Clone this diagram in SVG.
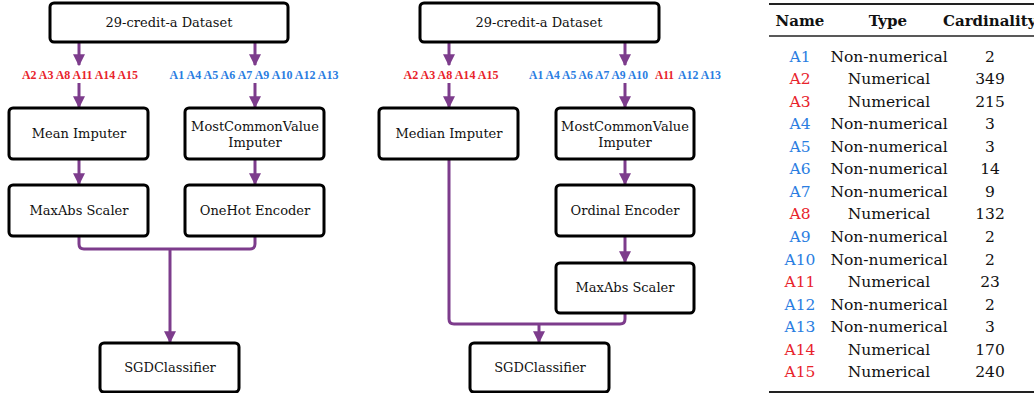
<svg xmlns="http://www.w3.org/2000/svg" width="1034" height="393" viewBox="0 0 1034 393">
<defs>
<marker id="ah" viewBox="0 0 10 10" refX="9" refY="5" markerWidth="4" markerHeight="4" orient="auto" markerUnits="strokeWidth">
<path d="M0,0 L10,5 L0,10 Z" fill="#7d3c8c"/>
</marker>
<style>
.box{fill:#fff;stroke:#000;stroke-width:3}
.bt{font-family:"DejaVu Serif","Liberation Serif",serif;font-size:13px;fill:#111;text-anchor:middle}
.lbl{font-family:"Liberation Serif","DejaVu Serif",serif;font-size:11.5px;font-weight:bold;text-anchor:middle}
.ls{text-anchor:start}
.c{fill:none;stroke:#7d3c8c;stroke-width:3}
.ca{fill:none;stroke:#7d3c8c;stroke-width:3;marker-end:url(#ah)}
.th{font-family:"DejaVu Serif","Liberation Serif",serif;font-size:15px;font-weight:bold;fill:#111}
.td{font-family:"DejaVu Serif","Liberation Serif",serif;font-size:15.5px;fill:#111;text-anchor:middle}
.rule{stroke:#222}
.red{fill:#e8232b}
.blue{fill:#2a7de1}
</style>
</defs>
<rect width="1034" height="393" fill="#fff"/>

<g id="connectors">
<line class="ca" x1="79" y1="42" x2="79" y2="65"/>
<line class="ca" x1="255" y1="42" x2="255" y2="65"/>
<line class="ca" x1="79" y1="83" x2="79" y2="107"/>
<line class="ca" x1="255" y1="83" x2="255" y2="107"/>
<line class="ca" x1="79" y1="159" x2="79" y2="184"/>
<line class="ca" x1="255" y1="159" x2="255" y2="184"/>
<path class="c" d="M79,236 V244 Q79,249 84,249 H250 Q255,249 255,244 V236"/>
<line class="ca" x1="170" y1="249" x2="170" y2="342"/>

<line class="ca" x1="449" y1="42" x2="449" y2="65"/>
<line class="ca" x1="625" y1="42" x2="625" y2="65"/>
<line class="ca" x1="449" y1="83" x2="449" y2="107"/>
<line class="ca" x1="625" y1="83" x2="625" y2="107"/>
<line class="ca" x1="625" y1="159" x2="625" y2="184"/>
<line class="ca" x1="625" y1="236" x2="625" y2="262"/>
<path class="c" d="M449,159 V319 Q449,324 454,324 H620 Q625,324 625,319 V313"/>
<line class="ca" x1="539" y1="324" x2="539" y2="342"/>
</g>

<g id="labels">
<text class="lbl red" x="80" y="79" textLength="116" lengthAdjust="spacingAndGlyphs">A2 A3 A8 A11 A14 A15</text>
<text class="lbl blue" x="254" y="79" textLength="169" lengthAdjust="spacingAndGlyphs">A1 A4 A5 A6 A7 A9 A10 A12 A13</text>
<text class="lbl red" x="451" y="79" textLength="95" lengthAdjust="spacingAndGlyphs">A2 A3 A8 A14 A15</text>
<text class="lbl ls blue" x="529" y="79" textLength="119" lengthAdjust="spacingAndGlyphs">A1 A4 A5 A6 A7 A9 A10</text>
<text class="lbl ls red" x="655" y="79" textLength="19" lengthAdjust="spacingAndGlyphs">A11</text>
<text class="lbl ls blue" x="678" y="79" textLength="43" lengthAdjust="spacingAndGlyphs">A12 A13</text>
</g>

<g id="l-dataset"><rect class="box" x="50" y="3" width="238" height="39" rx="4"/><text class="bt" x="169" y="27">29-credit-a Dataset</text></g>
<g id="l-mean"><rect class="box" x="9" y="108" width="139" height="51" rx="4"/><text class="bt" x="79" y="138">Mean Imputer</text></g>
<g id="l-mcv"><rect class="box" x="185" y="108" width="139" height="51" rx="4"/><text class="bt" x="255" y="131">MostCommonValue</text><text class="bt" x="255" y="147">Imputer</text></g>
<g id="l-maxabs"><rect class="box" x="9" y="185" width="139" height="51" rx="4"/><text class="bt" x="79" y="215">MaxAbs Scaler</text></g>
<g id="l-onehot"><rect class="box" x="185" y="185" width="139" height="51" rx="4"/><text class="bt" x="255" y="215">OneHot Encoder</text></g>
<g id="l-sgd"><rect class="box" x="100" y="343" width="139" height="49" rx="4"/><text class="bt" x="170" y="372">SGDClassifier</text></g>

<g id="r-dataset"><rect class="box" x="420" y="3" width="239" height="39" rx="4"/><text class="bt" x="539" y="27">29-credit-a Dataset</text></g>
<g id="r-median"><rect class="box" x="379" y="108" width="139" height="51" rx="4"/><text class="bt" x="449" y="138">Median Imputer</text></g>
<g id="r-mcv"><rect class="box" x="556" y="108" width="138" height="51" rx="4"/><text class="bt" x="625" y="131">MostCommonValue</text><text class="bt" x="625" y="147">Imputer</text></g>
<g id="r-ordinal"><rect class="box" x="556" y="185" width="138" height="51" rx="4"/><text class="bt" x="625" y="215">Ordinal Encoder</text></g>
<g id="r-maxabs"><rect class="box" x="556" y="263" width="138" height="50" rx="4"/><text class="bt" x="625" y="292">MaxAbs Scaler</text></g>
<g id="r-sgd"><rect class="box" x="470" y="343" width="139" height="49" rx="4"/><text class="bt" x="540" y="372">SGDClassifier</text></g>

<g id="table">
<line class="rule" x1="769" y1="4" x2="1034" y2="4" stroke-width="2"/>
<line class="rule" x1="769" y1="36" x2="1034" y2="36" stroke-width="1.5"/>
<line class="rule" x1="769" y1="392" x2="1034" y2="392" stroke-width="2"/>
<text class="th" x="800" y="26" text-anchor="middle">Name</text>
<text class="th" x="888" y="26" text-anchor="middle">Type</text>
<text class="th" x="943" y="26">Cardinality</text>
<text class="td blue" x="800" y="62">A1</text><text class="td" x="889" y="62">Non-numerical</text><text class="td" x="990" y="62">2</text>
<text class="td red" x="800" y="84">A2</text><text class="td" x="889" y="84">Numerical</text><text class="td" x="990" y="84">349</text>
<text class="td red" x="800" y="107">A3</text><text class="td" x="889" y="107">Numerical</text><text class="td" x="990" y="107">215</text>
<text class="td blue" x="800" y="129">A4</text><text class="td" x="889" y="129">Non-numerical</text><text class="td" x="990" y="129">3</text>
<text class="td blue" x="800" y="152">A5</text><text class="td" x="889" y="152">Non-numerical</text><text class="td" x="990" y="152">3</text>
<text class="td blue" x="800" y="174">A6</text><text class="td" x="889" y="174">Non-numerical</text><text class="td" x="990" y="174">14</text>
<text class="td blue" x="800" y="197">A7</text><text class="td" x="889" y="197">Non-numerical</text><text class="td" x="990" y="197">9</text>
<text class="td red" x="800" y="219">A8</text><text class="td" x="889" y="219">Numerical</text><text class="td" x="990" y="219">132</text>
<text class="td blue" x="800" y="242">A9</text><text class="td" x="889" y="242">Non-numerical</text><text class="td" x="990" y="242">2</text>
<text class="td blue" x="800" y="265">A10</text><text class="td" x="889" y="265">Non-numerical</text><text class="td" x="990" y="265">2</text>
<text class="td red" x="800" y="287">A11</text><text class="td" x="889" y="287">Numerical</text><text class="td" x="990" y="287">23</text>
<text class="td blue" x="800" y="310">A12</text><text class="td" x="889" y="310">Non-numerical</text><text class="td" x="990" y="310">2</text>
<text class="td blue" x="800" y="332">A13</text><text class="td" x="889" y="332">Non-numerical</text><text class="td" x="990" y="332">3</text>
<text class="td red" x="800" y="355">A14</text><text class="td" x="889" y="355">Numerical</text><text class="td" x="990" y="355">170</text>
<text class="td red" x="800" y="377">A15</text><text class="td" x="889" y="377">Numerical</text><text class="td" x="990" y="377">240</text>
</g>
</svg>
